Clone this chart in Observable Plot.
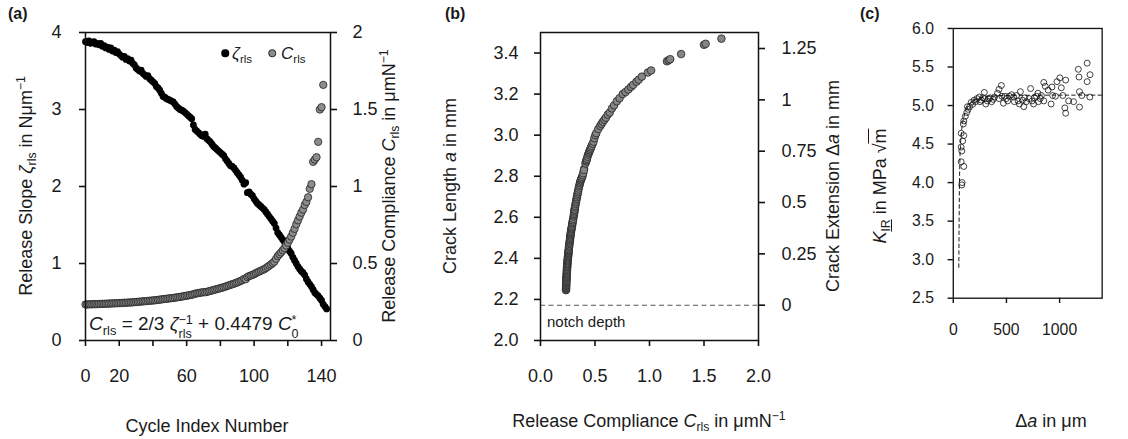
<!DOCTYPE html>
<html>
<head>
<meta charset="utf-8">
<script src="https://cdn.jsdelivr.net/npm/d3@7"></script>
<script src="https://cdn.jsdelivr.net/npm/@observablehq/plot@0.6"></script>
<style>
  html, body { margin:0; padding:0; background:#fff; overflow:hidden; }
  #wrap { position:relative; width:1128px; height:439px; overflow:hidden; }
  .panel { position:absolute; top:0; }
  .lbl { position:absolute; font-family:'Liberation Sans', Arial, sans-serif; font-size:18px; color:#1a1a1a; white-space:nowrap; line-height:1; }
  .rot { transform:translate(-50%,-50%) rotate(-90deg); }
  .ctr { transform:translate(-50%,-50%); }
  .it { font-style:italic; }
  .sb { font-size:0.68em; position:relative; top:0.35em; }
  .sp { font-size:0.68em; position:relative; top:-0.55em; }
  .stk { display:inline-block; font-size:0.66em; line-height:1.12; vertical-align:-0.62em; text-align:left; }
  .stk span { display:block; }
  .tag { font-weight:bold; font-size:16px; }
  .ov { border-top:1px solid #1a1a1a; padding-top:1px; }
  .ldot { position:absolute; border-radius:50%; transform:translate(-50%,-50%); box-sizing:border-box; }
</style>
</head>
<body>
<div id="wrap"></div>
<script>
// ---------- data ----------
// (a) release slope zeta_rls per cycle index (N/um)
const cycleSlope = [
 3.88,3.87,3.89,3.86,3.87,3.88,3.85,3.86,3.84,3.86,
 3.82,3.83,3.80,3.81,3.78,3.80,3.76,3.77,3.74,3.75,
 3.72,3.70,3.68,3.69,3.65,3.66,3.63,3.64,3.60,3.58,
 3.54,3.52,3.50,3.51,3.47,3.45,3.43,3.44,3.40,3.38,
 3.36,3.34,3.30,3.28,3.25,3.21,3.17,3.16,3.14,3.13,
 3.12,3.11,3.10,3.07,3.04,3.02,3.00,2.99,2.98,2.96,
 2.94,2.92,2.90,2.88,2.80,2.74,2.72,2.70,2.68,2.66,
 2.65,2.68,2.62,2.60,2.58,2.55,2.52,2.50,2.48,2.46,
 2.44,2.42,2.40,2.36,2.33,2.30,2.27,2.26,2.24,2.21,
 2.18,2.15,2.12,2.08,2.03,2.05,1.92,1.93,1.90,1.88,
 1.84,1.81,1.78,1.76,1.74,1.72,1.70,1.67,1.64,1.61,
 1.58,1.55,1.52,1.46,1.40,1.37,1.34,1.31,1.28,1.24,
 1.20,1.16,1.13,1.08,1.04,1.00,0.96,0.93,0.90,0.88,
 0.85,0.80,0.76,0.73,0.70,0.66,0.62,0.60,0.58,0.55,
 0.52,0.47,0.44,0.41
];
// (a),(b) release compliance C_rls per cycle index (um/N)
const cycleCompliance = [
 0.234,0.234,0.235,0.235,0.235,0.236,0.236,0.236,0.237,0.237,
 0.238,0.238,0.239,0.239,0.240,0.240,0.241,0.241,0.242,0.242,
 0.243,0.243,0.244,0.245,0.245,0.246,0.247,0.247,0.248,0.249,
 0.250,0.251,0.252,0.253,0.254,0.255,0.256,0.257,0.258,0.259,
 0.260,0.261,0.262,0.264,0.265,0.267,0.268,0.270,0.271,0.272,
 0.274,0.275,0.276,0.278,0.280,0.281,0.283,0.285,0.287,0.289,
 0.291,0.293,0.295,0.297,0.300,0.304,0.306,0.308,0.310,0.312,
 0.314,0.313,0.316,0.319,0.322,0.325,0.328,0.331,0.334,0.337,
 0.340,0.343,0.346,0.350,0.354,0.358,0.362,0.365,0.369,0.373,
 0.377,0.382,0.387,0.392,0.400,0.398,0.412,0.418,0.422,0.426,
 0.431,0.437,0.443,0.448,0.453,0.458,0.463,0.470,0.478,0.486,
 0.494,0.503,0.512,0.530,0.548,0.560,0.572,0.586,0.600,0.617,
 0.635,0.655,0.675,0.700,0.725,0.755,0.780,0.805,0.830,0.850,
 0.880,0.900,0.930,0.985,1.015,1.160,1.175,1.190,1.290,1.500,
 1.515,1.660
];
// (b) crack length a per cycle index (mm)
const crackLength = [
 2.245,2.250,2.255,2.260,2.266,2.270,2.275,2.281,2.285,2.290,
 2.295,2.300,2.306,2.310,2.315,2.321,2.325,2.330,2.336,2.340,
 2.345,2.350,2.356,2.360,2.365,2.371,2.375,2.380,2.386,2.390,
 2.395,2.400,2.406,2.410,2.415,2.421,2.425,2.430,2.436,2.440,
 2.445,2.452,2.458,2.463,2.470,2.476,2.482,2.488,2.494,2.500,
 2.506,2.512,2.518,2.523,2.529,2.535,2.541,2.546,2.551,2.557,
 2.565,2.572,2.578,2.585,2.592,2.603,2.610,2.617,2.624,2.632,
 2.640,2.638,2.648,2.656,2.665,2.673,2.682,2.690,2.698,2.706,
 2.714,2.722,2.730,2.740,2.750,2.758,2.766,2.773,2.779,2.785,
 2.790,2.797,2.805,2.815,2.835,2.830,2.862,2.872,2.878,2.885,
 2.895,2.905,2.913,2.920,2.926,2.933,2.940,2.948,2.958,2.968,
 2.985,3.000,3.010,3.030,3.045,3.055,3.065,3.075,3.085,3.100,
 3.110,3.130,3.145,3.165,3.180,3.200,3.210,3.222,3.235,3.245,
 3.260,3.270,3.285,3.305,3.315,3.360,3.365,3.370,3.395,3.440,
 3.445,3.470
];
const notchDepth = 2.172;
// (c) crack extension (um) and K_IR (MPa sqrt m)
const extensionMicrons = [
 80,83,74,99,80,74,88,74,99,94,99,113,127,140,154,182,168,209,223,245,
 264,292,306,320,333,361,388,416,430,452,457,471,485,512,526,548,567,595,609,631,
 622,663,672,686,727,713,741,755,782,801,796,818,851,865,851,892,920,928,934,961,
 975,1002,1016,1030,1049,1057,1057,1085,1131,1176,1182,1187,1187,1209,1259,1259,1286,1284,
 278,347,375,430,499,575,650,763,829,196,133,251,295
];
const stressIntensity = [
 3.97,4.00,4.27,4.21,4.41,4.46,4.54,4.64,4.61,4.76,4.80,4.86,4.91,4.95,4.985,5.015,5.04,5.05,5.09,5.11,
 5.07,5.17,5.02,5.06,5.09,5.05,5.11,5.16,5.21,5.26,5.12,5.03,5.12,5.06,5.12,5.14,5.11,5.13,5.06,5.18,
 5.02,4.985,5.10,5.05,5.22,5.09,5.06,5.02,5.12,5.05,5.16,5.09,5.30,5.25,5.06,5.20,5.02,5.24,5.13,5.12,
 5.31,5.36,5.23,5.13,4.97,4.90,5.33,5.06,5.05,5.47,5.37,5.18,4.98,5.13,5.55,5.31,5.40,5.11,
 5.10,5.10,5.08,5.09,5.09,5.05,5.07,5.10,5.13,5.07,4.985,5.05,5.09
];
// (c) dashed R-curve fit
const fitExtension = [52,55,58,63,70,80,95,115,145,185,240,320,450,800,1400];
const fitK         = [2.90,3.50,4.00,4.35,4.55,4.70,4.83,4.93,5.01,5.06,5.10,5.12,5.13,5.135,5.135];

// tick labels
const cycleTicks = [0,20,40,60,80,100,120,140];
const cycleTickLabels = [0,20,60,100,140];
const slopeTicks = [0,1,2,3,4];
const complianceTicks = [0,0.5,1,1.5,2];
const complianceXTicks = [0,0.5,1,1.5,2];
const crackTicks = [2.0,2.2,2.4,2.6,2.8,3.0,3.2,3.4];
const extensionTicks = [0,0.25,0.5,0.75,1,1.25];
const kTicks = [2.5,3.0,3.5,4.0,4.5,5.0,5.5,6.0];
const daTicks = [0,500,1000];

// ---------- rows ----------
const slopeRows = cycleSlope.map((z, i) => ({i, z}));
const compRows = cycleCompliance.map((c, i) => ({i, c, a: crackLength[i]}));
const kRows = extensionMicrons.map((d, i) => ({d, k: stressIntensity[i]}));
const fitRows = fitExtension.map((d, i) => ({d, k: fitK[i]}));

const FONT = "'Liberation Sans', Arial, sans-serif";
const baseStyle = {fontFamily: FONT, fontSize: "18px", color: "#1a1a1a", background: "transparent", overflow: "visible"};
const tickStyle = {tickSize: 6, stroke: "#111", strokeWidth: 1.6, label: null};

const wrap = document.getElementById("wrap");
function place(svg, left) {
  const d = document.createElement("div");
  d.className = "panel";
  d.style.left = left + "px";
  d.appendChild(svg);
  wrap.appendChild(d);
}

// Panel (a)
const pa = Plot.plot({
  width: 420, height: 439,
  marginLeft: 85, marginRight: 90, marginTop: 32, marginBottom: 99,
  style: baseStyle,
  x: {domain: [0, 145.3]},
  y: {domain: [0, 4]},
  marks: [
    Plot.axisX({...tickStyle, ticks: cycleTicks, tickPadding: 23,
      tickFormat: d => cycleTickLabels.includes(d) ? String(d) : ""}),
    Plot.axisY({...tickStyle, anchor: "left", ticks: slopeTicks, tickPadding: 18, tickFormat: d => String(d)}),
    Plot.axisY({...tickStyle, anchor: "right", ticks: complianceTicks.map(v => v * 2), tickPadding: 16,
      tickFormat: d => String(d / 2)}),
    Plot.dot(slopeRows, {x: "i", y: "z", r: 3.4, fill: "#000", stroke: "none"}),
    Plot.dot(compRows, {x: "i", y: d => 2 * d.c, r: 3.7, fill: "#8c8c8c", stroke: "#222", strokeWidth: 0.8}),
    Plot.frame({stroke: "#111", strokeWidth: 1.5})
  ]
});
place(pa, 0);

// Panel (b)
const pb = Plot.plot({
  width: 440, height: 439,
  marginLeft: 120, marginRight: 102, marginTop: 32, marginBottom: 99,
  style: baseStyle,
  x: {domain: [0, 2]},
  y: {domain: [2.0, 3.5]},
  marks: [
    Plot.ruleY([notchDepth], {stroke: "#555", strokeWidth: 1.1, strokeDasharray: "5,3.5"}),
    Plot.axisX({...tickStyle, ticks: complianceXTicks, tickPadding: 23, tickFormat: d3.format(".1f")}),
    Plot.axisY({...tickStyle, anchor: "left", ticks: crackTicks, tickPadding: 16, tickFormat: d3.format(".1f")}),
    Plot.axisY({...tickStyle, anchor: "right", ticks: extensionTicks.map(v => notchDepth + v), tickPadding: 17,
      tickFormat: d => String(+(d - notchDepth).toFixed(2))}),
    Plot.dot(compRows, {x: "c", y: "a", r: 3.8, fill: "#858585", stroke: "#222", strokeWidth: 0.8}),
    Plot.frame({stroke: "#111", strokeWidth: 1.5})
  ]
});
place(pb, 420);

// Panel (c)
const pc = Plot.plot({
  width: 306, height: 439,
  marginLeft: 106, marginRight: 30, marginTop: 32, marginBottom: 99,
  style: baseStyle,
  x: {domain: [0, 1400]},
  y: {domain: [2.5, 6]},
  marks: [
    Plot.line(fitRows, {x: "d", y: "k", stroke: "#111", strokeWidth: 1.1, strokeDasharray: "4,3.5"}),
    Plot.axisX({...tickStyle, ticks: daTicks, tickPadding: 23, tickFormat: d => String(d)}),
    Plot.axisY({...tickStyle, anchor: "left", ticks: kTicks, tickPadding: 16, tickFormat: d3.format(".1f")}),
    Plot.dot(kRows, {x: "d", y: "k", r: 3.4, fill: "none", stroke: "#111", strokeWidth: 0.9}),
    Plot.frame({stroke: "#111", strokeWidth: 1.5})
  ]
});
place(pc, 860);

// ---------- text overlays ----------
function label(html, x, y, cls) {
  const d = document.createElement("div");
  d.className = "lbl " + cls;
  d.style.left = x + "px";
  d.style.top = y + "px";
  d.innerHTML = html;
  wrap.appendChild(d);
  return d;
}
const CR = '<span class="it">C</span><span class="sb">rls</span>';
const ZR = '<span class="it">ζ</span><span class="sb">rls</span>';
const UMN = 'μmN<span class="sp">−1</span>';

label('(a)', 8, 6, 'tag');
label('(b)', 445, 6, 'tag');
label('(c)', 860, 6, 'tag');

label('Release Slope ' + ZR + ' in Nμm<span class="sp">−1</span>', 26, 186, 'rot');
label('Release Compliance ' + CR + ' in ' + UMN, 389, 186, 'rot');
label('Cycle Index Number', 207, 426, 'ctr');

label('Crack Length <span class="it">a</span> in mm', 450, 186, 'rot');
label('Crack Extension Δ<span class="it">a</span> in mm', 833, 186, 'rot');
label('Release Compliance ' + CR + ' in ' + UMN, 649, 421, 'ctr');

label('<span class="it">K</span><span class="sb" style="text-decoration:underline">IR</span> in MPa √<span class="ov">m</span>', 880, 186, 'rot');
label('Δ<span class="it">a</span> in μm', 1051, 421, 'ctr');

// formula in (a)
label('<span class="it">C</span><span class="sb">rls</span> = 2/3 <span class="it">ζ</span><span class="stk"><span>−1</span><span>rls</span></span> + 0.4479 <span class="it">C</span><span class="stk"><span>*</span><span>0</span></span>',
  89, 313, '').style.fontSize = "19px";

// notch depth note in (b)
label('notch depth', 547, 314, '').style.fontSize = "15px";

// legend in (a)
function ldot(x, y, fill, stroke) {
  const d = document.createElement("div");
  d.className = "ldot";
  d.style.left = x + "px"; d.style.top = y + "px";
  d.style.width = "7.5px"; d.style.height = "7.5px";
  d.style.background = fill;
  if (stroke) { d.style.border = "0.8px solid " + stroke; }
  wrap.appendChild(d);
}
ldot(225, 53, "#000", null);
label(ZR, 232, 45, '').style.fontSize = "17px";
ldot(272, 53, "#8c8c8c", "#222");
label(CR, 281, 45, '').style.fontSize = "17px";
</script>
</body>
</html>
